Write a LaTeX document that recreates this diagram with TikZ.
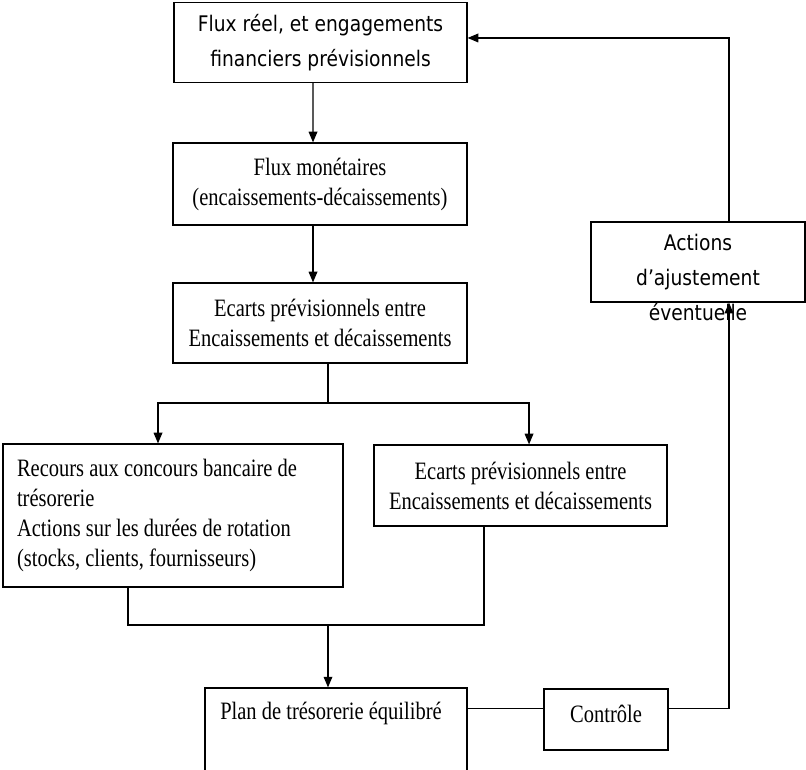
\documentclass[tikz,border=0pt]{standalone}
\usepackage{fontspec}
\setmainfont{Liberation Serif}[FakeStretch=0.82]
\newfontfamily\sansbloc{DejaVu Sans}[FakeStretch=0.87]
\usetikzlibrary{arrows.meta,positioning}

\begin{document}
\begin{tikzpicture}[x=0.75pt, y=-0.75pt,
      >={Triangle[length=8pt,width=6.5pt]},
      every path/.append style={line width=0.9pt},
      every node/.append style={align=center},
      bloc/.style={draw, inner sep=0pt,
        font=\fontsize{18.75pt}{22.5pt}\selectfont},
      sbloc/.style={draw, inner sep=0pt,
        font=\sansbloc\fontsize{16.1pt}{26.25pt}\selectfont},
      texte/.style={inner sep=0pt,
        font=\fontsize{18.75pt}{22.5pt}\selectfont},
      stexte/.style={inner sep=0pt,
        font=\sansbloc\fontsize{16.1pt}{26.25pt}\selectfont}]

  \useasboundingbox (0,0) rectangle (806,769);

  % colonne centrale
  \node [sbloc, minimum width=219.75pt, minimum height=60pt] (b1) at (320.5,42.5)
        {Flux réel, et engagements\\financiers prévisionnels};
  \node [bloc, minimum width=220.5pt, minimum height=61.5pt] (b2) at (320,184)
        {Flux monétaires\\(encaissements-décaissements)};
  \node [bloc, minimum width=220.5pt, minimum height=60pt] (b3) at (320,323)
        {Ecarts prévisionnels entre\\Encaissements et décaissements};

  % deux branches
  \node [bloc, align=flush left, text width=234pt, inner xsep=10.5pt,
         minimum height=107.25pt] (b4) at (173,515.5)
        {Recours aux concours bancaire de\\trésorerie\\Actions sur les durées de rotation\\(stocks, clients, fournisseurs)};
  \node [bloc, minimum width=219.75pt, minimum height=60.75pt] (b5) at (520.5,485.5)
        {Ecarts prévisionnels entre\\Encaissements et décaissements};

  % bas
  \node [draw, minimum width=196.5pt, minimum height=84pt] (plan) at (336,744) {};
  \node [texte] (plantxt) at (331,713) {Plan de trésorerie équilibré};
  \node [bloc, text depth=9pt, minimum width=93pt, minimum height=45.75pt] (ctrl) at (606,719.5) {Contrôle};

  % retour
  \node [draw, minimum width=160.5pt, minimum height=60pt] (actbox) at (698,262) {};
  \node [stexte] (acttxt) at (698,277.5) {Actions\\d’ajustement\\éventuelle};

  \coordinate (split) at (328,403);
  \coordinate (join) at (328,625);

  \draw[->] ([xshift=-5.6pt]b1.south) -- ([xshift=-5.25pt]b2.north);
  \draw[->] ([xshift=-5.25pt]b2.south) -- ([xshift=-5.25pt]b3.north);
  \draw (b3.south -| split) -- (split);
  \draw[->] (split) -| ([xshift=-11.25pt]b4.north);
  \draw[->] (split) -| ([xshift=6.4pt]b5.north);
  \draw ([xshift=-33.75pt]b4.south) |- (join);
  \draw ([xshift=-27.4pt]b5.south) |- (join);
  \draw[->] (join) -- (plan.north -| join);
  \draw ([yshift=-15.75pt]plan.north east) coordinate (pe) -- (pe -| ctrl.west);
  \draw[->] (pe -| ctrl.east) -| ([xshift=23.25pt]actbox.south);
  \draw[->] ([xshift=23.25pt]actbox.north) |- ([yshift=3.4pt]b1.east);
\end{tikzpicture}
\end{document}
